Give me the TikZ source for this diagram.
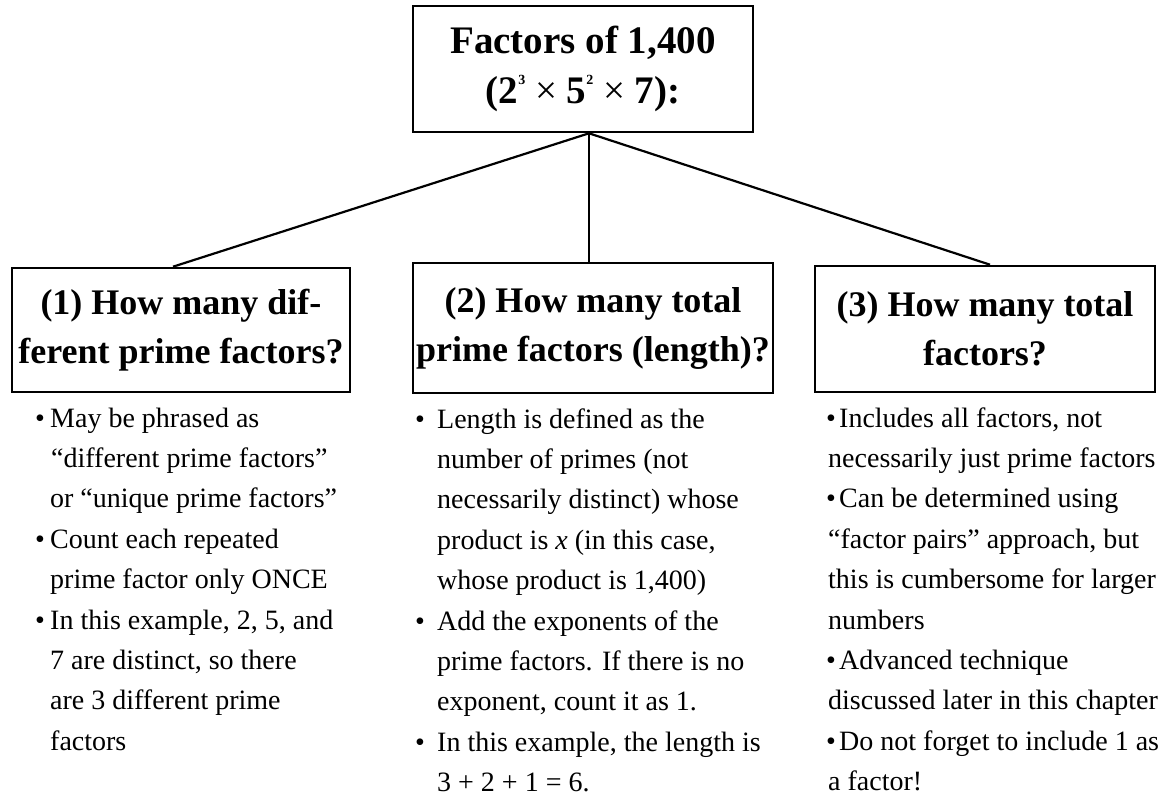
\documentclass[tikz,border=0pt]{standalone}
\usepackage{fontspec}
\setmainfont{Liberation Serif}
\usetikzlibrary{calc}
\newcommand{\supdig}[1]{\raisebox{0.5em}{\fontsize{14}{14}\selectfont #1}}
\begin{document}
\begin{tikzpicture}[x=1pt,y=-1pt,
  box/.style={draw, line width=2.6pt, inner sep=0pt, align=center,
    font=\fontsize{36}{49}\selectfont\bfseries},
  link/.style={line width=2.2pt},
  body/.style={inner sep=0pt, anchor=base west, font=\fontsize{28}{40.4}\selectfont}]
\useasboundingbox (0,0) rectangle (1161,801);

\node[box, minimum width=340pt, minimum height=126pt,
  font=\fontsize{39}{50}\selectfont\bfseries] (top) at (583,69)
  {Factors of 1,400\\(2\supdig{3} {\mdseries ×} 5\supdig{2} {\mdseries ×} 7):};

\node[box, minimum width=338pt, minimum height=124pt] (b1) at (181,330)
  {(1) How many dif-\\ferent prime factors?};
\node[box, minimum width=360pt, minimum height=130pt] (b2) at (593,328)
  {(2) How many total\\prime factors (length)?};
\node[box, minimum width=340pt, minimum height=126pt] (b3) at (985,329)
  {(3) How many total\\factors?};

\coordinate (j) at ($(top.south)+(6,0)$);
\draw[link] (j) -- ($(b1.north)+(-8,0)$);
\draw[link] (j) -- (j |- b2.north);
\draw[link] (j) -- ($(b3.north)+(5,0)$);

\node[body] (l1) at (35,427) {\begin{tabular}[t]{@{}l@{}}
\makebox[15pt][l]{•}May be phrased as\\
\hspace*{16pt}“different prime factors”\\
\hspace*{15pt}or “unique prime factors”\\
\makebox[15pt][l]{•}Count each repeated\\
\hspace*{15pt}prime factor only ONCE\\
\makebox[15pt][l]{•}In this example, 2, 5, and\\
\hspace*{15pt}7 are distinct, so there\\
\hspace*{15pt}are 3 different prime\\
\hspace*{15pt}factors
\end{tabular}};

\node[body] (l2) at (415,428) {\begin{tabular}[t]{@{}l@{}}
\makebox[22pt][l]{•}Length is defined as the\\
\hspace*{22pt}number of primes (not\\
\hspace*{22pt}necessarily distinct) whose\\
\hspace*{22pt}product is \textit{x} (in this case,\\
\hspace*{22pt}whose product is 1,400)\\
\makebox[22pt][l]{•}Add the exponents of the\\
\hspace*{22pt}prime factors. If there is no\\
\hspace*{22pt}exponent, count it as 1.\\
\makebox[22pt][l]{•}In this example, the length is\\
\hspace*{22pt}3 + 2 + 1 = 6.
\end{tabular}};

\node[body] (l3) at (826,427) {\begin{tabular}[t]{@{}l@{}}
\makebox[13pt][l]{•}Includes all factors, not\\
\hspace*{2pt}necessarily just prime factors\\
\makebox[13pt][l]{•}Can be determined using\\
\hspace*{2pt}“factor pairs” approach, but\\
\hspace*{2pt}this is cumbersome for larger\\
\hspace*{2pt}numbers\\
\makebox[13pt][l]{•}Advanced technique\\
\hspace*{2pt}discussed later in this chapter\\
\makebox[13pt][l]{•}Do not forget to include 1 as\\
\hspace*{2pt}a factor!
\end{tabular}};
\end{tikzpicture}
\end{document}
